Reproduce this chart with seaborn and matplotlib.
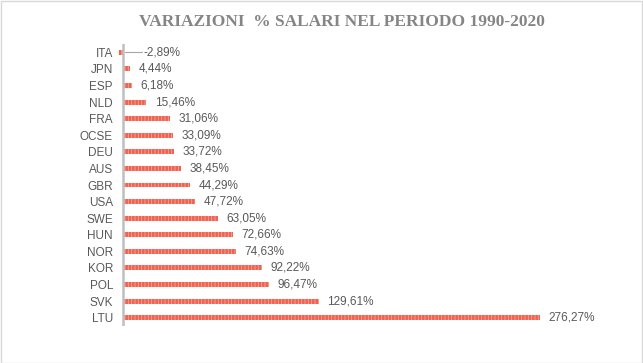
import matplotlib
matplotlib.use("Agg")
import matplotlib.pyplot as plt
import seaborn as sns
import pandas as pd
from matplotlib.patches import Rectangle

countries = ["ITA", "JPN", "ESP", "NLD", "FRA", "OCSE", "DEU", "AUS", "GBR",
             "USA", "SWE", "HUN", "NOR", "KOR", "POL", "SVK", "LTU"]
values = [-2.89, 4.44, 6.18, 15.46, 31.06, 33.09, 33.72, 38.45, 44.29,
          47.72, 63.05, 72.66, 74.63, 92.22, 96.47, 129.61, 276.27]
title = "VARIAZIONI  % SALARI NEL PERIODO 1990-2020"

df = pd.DataFrame({"paese": countries, "valore": values})

sns.set_style("white")
plt.rcParams["font.family"] = ["Liberation Sans", "DejaVu Sans"]
plt.rcParams["hatch.linewidth"] = 0.6

W, H = 643, 363
fig = plt.figure(figsize=(W / 100, H / 100), dpi=100)

# axes placement in pixels
zero_px = 123
scale = (540 - 123) / 276.27
left_px, right_px = 118, 610
top_px, bot_px = 44, 326
ax = fig.add_axes([left_px / W, 1 - bot_px / H, (right_px - left_px) / W, (bot_px - top_px) / H])

sns.barplot(data=df, y="paese", x="valore", orient="h", ax=ax, width=0.3,
            color="#F36B5B", edgecolor="#F9A898", linewidth=0, hatch="|||||")
for p in ax.patches:
    p.set_facecolor("#F2604F")
    p.set_edgecolor("#F9A898")
    p.set_linewidth(0)

ax.set_xlim(-(zero_px - left_px) / scale, (right_px - zero_px) / scale)
ax.set_ylim(len(countries) - 0.5, -0.5)

for s in ["top", "right", "bottom", "left"]:
    ax.spines[s].set_visible(False)
ax.axvline(0, color="#BFBFBF", lw=1.8, zorder=5)
ax.set_xticks([])
ax.set_xlabel("")
ax.set_ylabel("")
ax.tick_params(axis="y", length=0, pad=3.6, labelsize=8.5, labelcolor="#595959")

off = 8.5 / scale
for i, v in enumerate(values):
    lab = f"{v:.2f}".replace(".", ",") + "%"
    if v < 0:
        ax.plot([1.5 / scale, 19 / scale], [i, i], color="#A6A6A6", lw=0.8)
        ax.text(21 / scale, i, lab, va="center", ha="left", fontsize=8.5, color="#595959")
    else:
        ax.text(v + off, i, lab, va="center", ha="left", fontsize=8.5, color="#595959")

fig.text(342 / W, 1 - 22 / H, title, ha="center", va="center", fontsize=12.5,
         fontweight="bold", color="#858585", family=["Liberation Serif", "DejaVu Serif"])

fig.patches.append(Rectangle((0.5 / W, 0.5 / H), 1 - 1.5 / W, 1 - 1.5 / H, transform=fig.transFigure,
                             fill=False, edgecolor="#D9D9D9", lw=1))

fig.savefig("out.png", dpi=100, facecolor="white")
